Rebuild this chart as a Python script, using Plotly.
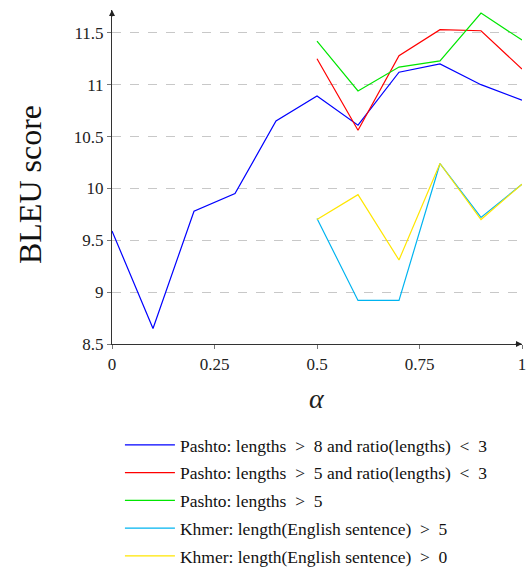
import plotly.graph_objects as go

alpha_full = [0, 0.1, 0.2, 0.3, 0.4, 0.5, 0.6, 0.7, 0.8, 0.9, 1.0]
alpha_half = [0.5, 0.6, 0.7, 0.8, 0.9, 1.0]

pashto_len8_ratio3 = [9.59, 8.65, 9.78, 9.95, 10.65, 10.89, 10.61, 11.12, 11.20, 11.00, 10.85]
pashto_len5_ratio3 = [11.25, 10.56, 11.28, 11.53, 11.52, 11.15]
pashto_len5 = [11.42, 10.94, 11.17, 11.23, 11.69, 11.43]
khmer_len5 = [9.71, 8.92, 8.92, 10.24, 9.72, 10.04]
khmer_len0 = [9.70, 9.94, 9.31, 10.24, 9.70, 10.04]

names = [
    "Pashto: lengths\u2002>\u20028 and ratio(lengths)\u2002<\u20023",
    "Pashto: lengths\u2002>\u20025 and ratio(lengths)\u2002<\u20023",
    "Pashto: lengths\u2002>\u20025",
    "Khmer: length(English sentence)\u2002>\u20025",
    "Khmer: length(English sentence)\u2002>\u20020",
]
colors = ["#0000ff", "#ff0000", "#00e600", "#00b4f0", "#ffe600"]

y_ticks = [8.5, 9, 9.5, 10, 10.5, 11, 11.5]
y_ticklabels = ["8.5", "9", "9.5", "10", "10.5", "11", "11.5"]
x_ticks = [0, 0.25, 0.5, 0.75, 1]
x_ticklabels = ["0", "0.25", "0.5", "0.75", "1"]

y_title = "BLEU score"
x_title = "<i>α</i>"

series = [
    (alpha_full, pashto_len8_ratio3),
    (alpha_half, pashto_len5_ratio3),
    (alpha_half, pashto_len5),
    (alpha_half, khmer_len5),
    (alpha_half, khmer_len0),
]

fig = go.Figure()
for i, ((xs, ys), name, c) in enumerate(zip(series, names, colors)):
    fig.add_trace(go.Scatter(x=xs, y=ys, mode="lines", name=name, legendgroup=f"g{i}",
                             line=dict(color=c, width=1.2)))

FONT = "Liberation Serif, Times New Roman, DejaVu Serif, serif"
y_top = 11.72

fig.update_layout(
    width=526, height=569,
    margin=dict(l=112, r=4, t=10, b=225, autoexpand=False),
    plot_bgcolor="white", paper_bgcolor="white",
    font=dict(family=FONT, size=16, color="#222"),
    showlegend=True,
    legend=dict(x=0.228, y=0.2496, xref="container", yref="container",
                xanchor="left", yanchor="top",
                font=dict(family=FONT, size=17.5, color="#111"),
                itemwidth=50,
                bgcolor="rgba(0,0,0,0)", tracegroupgap=2),
    xaxis=dict(range=[0, 1], tickvals=x_ticks, ticktext=x_ticklabels,
               showgrid=False, zeroline=False, showline=True,
               linecolor="#333", linewidth=1.2,
               ticks="outside", ticklen=4, tickcolor="#777",
               ticklabeloverflow="allow",
               tickfont=dict(family=FONT, size=17, color="#222")),
    yaxis=dict(range=[8.5, y_top], tickvals=y_ticks, ticktext=y_ticklabels,
               showgrid=True, gridcolor="#c8c8c8", griddash="dash", gridwidth=1,
               zeroline=False, showline=True, linecolor="#333", linewidth=1.2,
               ticks="outside", ticklen=4, tickcolor="#777",
               tickfont=dict(family=FONT, size=17, color="#222")),
)

# axis titles as annotations
fig.add_annotation(x=-0.2, y=0.476, xref="paper", yref="paper", text=y_title,
                   textangle=-90, showarrow=False, xanchor="center", yanchor="middle",
                   font=dict(family=FONT, size=32, color="#111"))
fig.add_annotation(x=0.5, y=-0.162, xref="paper", yref="paper", text=x_title,
                   showarrow=False, xanchor="center", yanchor="middle",
                   font=dict(family=FONT, size=28, color="#222"))

# axis arrowheads
fig.add_annotation(x=0, y=y_top, xref="x", yref="y", ax=0, ay=8,
                   showarrow=True, arrowhead=2, arrowsize=1, arrowwidth=1.2,
                   arrowcolor="#222", text="")
fig.add_annotation(x=1, y=8.5, xref="x", yref="y", ax=-8, ay=0,
                   showarrow=True, arrowhead=2, arrowsize=1, arrowwidth=1.2,
                   arrowcolor="#222", text="")

fig.write_html("out.html")
